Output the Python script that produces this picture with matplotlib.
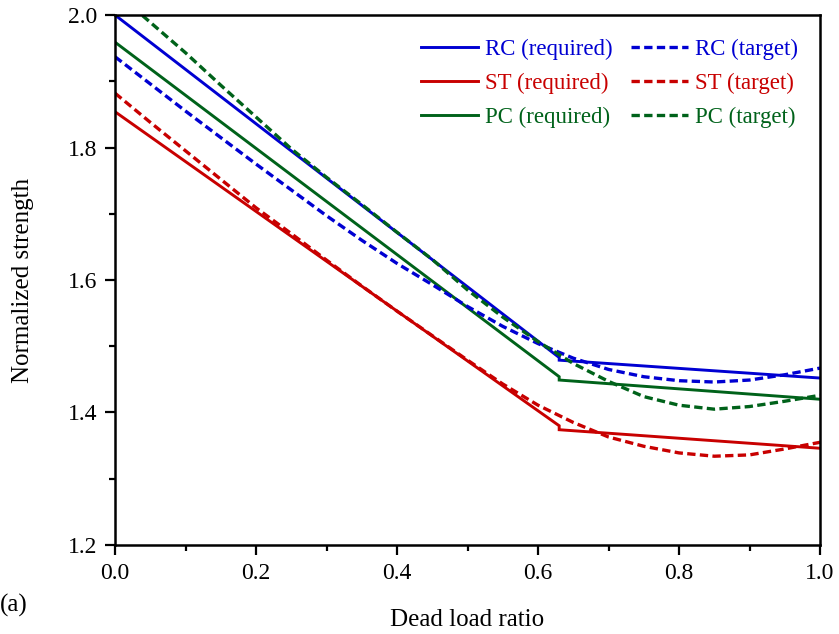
import matplotlib
matplotlib.use("Agg")
import matplotlib.pyplot as plt

plt.rcParams["font.family"] = ["Liberation Serif", "DejaVu Serif"]

# Required strength: piecewise, with a small step at the kink (x = 0.63)
x_req = [0.0, 0.63, 0.63, 1.0]
rc_req = [2.000, 1.483, 1.479, 1.452]
st_req = [1.854, 1.380, 1.374, 1.346]
pc_req = [1.959, 1.454, 1.449, 1.420]

# Target strength curves
x_tgt = [0.00, 0.05, 0.10, 0.15, 0.20, 0.25, 0.30, 0.35, 0.40, 0.45, 0.50,
         0.55, 0.60, 0.65, 0.70, 0.75, 0.80, 0.85, 0.90, 0.95, 1.00]
rc_tgt = [1.937, 1.896, 1.855, 1.815, 1.775, 1.736, 1.697, 1.660, 1.625, 1.593,
          1.560, 1.530, 1.504, 1.482, 1.465, 1.454, 1.448, 1.446, 1.449, 1.457, 1.467]
st_tgt = [1.882, 1.838, 1.795, 1.752, 1.709, 1.670, 1.630, 1.591, 1.553, 1.516,
          1.479, 1.443, 1.411, 1.385, 1.363, 1.349, 1.339, 1.334, 1.336, 1.345, 1.355]
pc_tgt = [2.035, 1.989, 1.943, 1.894, 1.846, 1.798, 1.755, 1.714, 1.672, 1.631,
          1.585, 1.544, 1.507, 1.474, 1.447, 1.424, 1.411, 1.405, 1.409, 1.417, 1.426]

labels_req = ["RC (required)", "ST (required)", "PC (required)"]
labels_tgt = ["RC (target)", "ST (target)", "PC (target)"]
colors = ["#0000D2", "#C80000", "#00621A"]

fig = plt.figure(figsize=(8.39, 6.34), dpi=100)
ax = fig.add_axes([0.1371, 0.1404, 0.8403, 0.8359])

lw = 2.1
dash = (0, (2.5, 1.3))
handles = {}
for lab, y, c in zip(labels_req, [rc_req, st_req, pc_req], colors):
    handles[lab], = ax.plot(x_req, y, color=c, lw=lw, solid_joinstyle="miter")
for lab, y, c in zip(labels_tgt, [rc_tgt, st_tgt, pc_tgt], colors):
    handles[lab], = ax.plot(x_tgt, y, color=c, lw=lw + 0.3, linestyle=dash)

ax.set_xlim(0, 1.0)
ax.set_ylim(1.2, 2.0)
ax.set_xticks([0.0, 0.2, 0.4, 0.6, 0.8, 1.0])
ax.set_xticks([0.1, 0.3, 0.5, 0.7, 0.9], minor=True)
ax.set_yticks([1.2, 1.4, 1.6, 1.8, 2.0])
ax.set_yticks([1.3, 1.5, 1.7, 1.9], minor=True)
ax.xaxis.set_major_formatter(matplotlib.ticker.FormatStrFormatter("%.1f"))
ax.yaxis.set_major_formatter(matplotlib.ticker.FormatStrFormatter("%.1f"))
ax.tick_params(which="major", direction="out", length=7, width=1.6,
               labelsize=17, pad=6)
ax.tick_params(which="minor", direction="out", length=4, width=1.6)
for s in ax.spines.values():
    s.set_linewidth(1.8)

ax.set_xlabel("Dead load ratio", fontsize=18, labelpad=18)
ax.set_ylabel("Normalized strength", fontsize=18, labelpad=24)
fig.text(0.0, 0.045, "(a)", fontsize=18, ha="left", va="center")

order = [labels_req[0], labels_tgt[0], labels_req[1], labels_tgt[1],
         labels_req[2], labels_tgt[2]]
# column-major ordering for a 2-column legend
col_order = [order[0], order[2], order[4], order[1], order[3], order[5]]
leg = ax.legend([handles[k] for k in col_order], col_order, ncol=2,
                loc="upper right", bbox_to_anchor=(0.992, 0.985),
                frameon=False, fontsize=16.5, handlelength=2.5,
                handletextpad=0.3, columnspacing=0.8, labelspacing=0.55,
                borderaxespad=0.3)
for txt, k in zip(leg.get_texts(), col_order):
    txt.set_color(handles[k].get_color())

fig.savefig("out.png", dpi=100)
